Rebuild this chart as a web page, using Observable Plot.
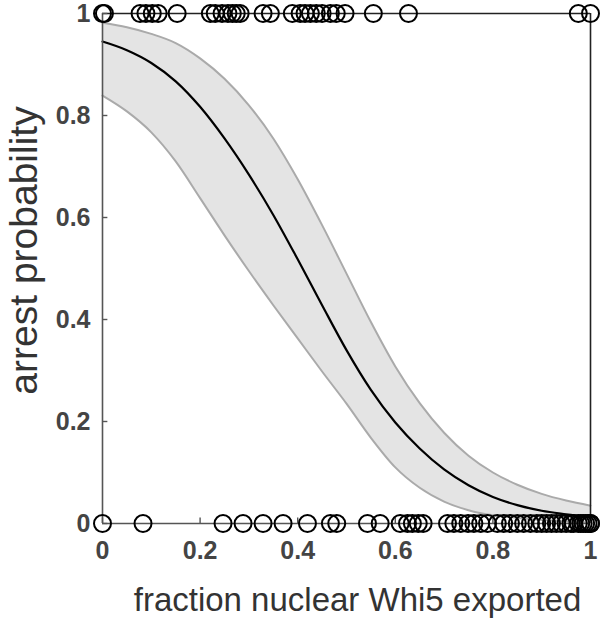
<!DOCTYPE html>
<html>
<head>
<meta charset="utf-8">
<script src="https://cdn.jsdelivr.net/npm/d3@7"></script>
<script src="https://cdn.jsdelivr.net/npm/@observablehq/plot@0.6"></script>
<style>
  html, body { margin: 0; padding: 0; background: white; }
  #chart svg { display: block; }
</style>
</head>
<body>
<div id="chart"></div>
<script>
// Fitted curve samples
const curveX  = [0, 0.05, 0.1, 0.15, 0.2, 0.25, 0.3, 0.35, 0.4, 0.45, 0.5, 0.55, 0.6, 0.65, 0.7, 0.75, 0.8, 0.85, 0.9, 0.95, 1.0];
const fitY    = [0.945, 0.928, 0.903, 0.867, 0.817, 0.755, 0.684, 0.605, 0.518, 0.428, 0.34, 0.262, 0.198, 0.147, 0.106, 0.075, 0.052, 0.036, 0.025, 0.018, 0.012];
const upperY  = [0.982, 0.973, 0.96, 0.942, 0.912, 0.872, 0.82, 0.755, 0.675, 0.585, 0.49, 0.395, 0.308, 0.236, 0.178, 0.133, 0.1, 0.076, 0.058, 0.045, 0.035];
const lowerY  = [0.839, 0.808, 0.767, 0.71, 0.638, 0.565, 0.495, 0.428, 0.363, 0.298, 0.235, 0.168, 0.11, 0.07, 0.043, 0.026, 0.016, 0.011, 0.007, 0.004, 0.002];

// Observations: arrested (y = 1) and not arrested (y = 0)
const arrestedX = [0, 0.004, 0.077, 0.089, 0.102, 0.114, 0.153, 0.221, 0.231, 0.245, 0.257, 0.266, 0.274, 0.282,
  0.329, 0.344, 0.389, 0.405, 0.415, 0.426, 0.438, 0.45, 0.467, 0.479, 0.497, 0.555, 0.627, 0.975, 1.0];
const notArrestedX = [0, 0.083, 0.247, 0.288, 0.329, 0.37, 0.42, 0.467, 0.48, 0.543, 0.569, 0.61, 0.625, 0.635,
  0.647, 0.657, 0.707, 0.72, 0.734, 0.749, 0.761, 0.775, 0.789, 0.809, 0.822, 0.836, 0.85, 0.863, 0.877, 0.89,
  0.9, 0.91, 0.92, 0.93, 0.94, 0.95, 0.96, 0.965, 0.975, 0.98, 0.985, 0.99, 0.995, 1.0, 1.0];

const xTicks = [0, 0.2, 0.4, 0.6, 0.8, 1];
const yTicks = [0, 0.2, 0.4, 0.6, 0.8, 1];
const xLabel = "fraction nuclear Whi5 exported";
const yLabel = "arrest probability";

const curve = curveX.map((x, i) => ({x, fit: fitY[i], hi: upperY[i], lo: lowerY[i]}));
const points = [
  ...arrestedX.map(x => ({x, y: 1})),
  ...notArrestedX.map(x => ({x, y: 0}))
];

const chart = Plot.plot({
  width: 602,
  height: 619,
  marginLeft: 102,
  marginRight: 12,
  marginTop: 13,
  marginBottom: 96,
  style: {fontFamily: "'Liberation Sans', Arial, sans-serif", background: "white", overflow: "visible"},
  x: {domain: [0, 1]},
  y: {domain: [0, 1]},
  marks: [
    Plot.areaY(curve, {x: "x", y1: "lo", y2: "hi", fill: "#e4e4e4", curve: "monotone-x"}),
    Plot.lineY(curve, {x: "x", y: "hi", stroke: "#aaaaaa", strokeWidth: 2, curve: "monotone-x"}),
    Plot.lineY(curve, {x: "x", y: "lo", stroke: "#aaaaaa", strokeWidth: 2, curve: "monotone-x"}),
    Plot.lineY(curve, {x: "x", y: "fit", stroke: "black", strokeWidth: 2.2, curve: "monotone-x"}),
    // box
    Plot.ruleX([0], {stroke: "#555", strokeWidth: 1.6}),
    Plot.ruleY([0], {stroke: "#555", strokeWidth: 1.6}),
    Plot.ruleX([1], {stroke: "#222", strokeWidth: 1.6}),
    Plot.ruleY([1], {stroke: "#222", strokeWidth: 1.6}),
    // inward ticks
    Plot.ruleX(xTicks, {x: d => d, y1: 0, y2: 0.011, stroke: "#555", strokeWidth: 1.4}),
    Plot.ruleY(yTicks, {y: d => d, x1: 0, x2: 0.011, stroke: "#555", strokeWidth: 1.4}),
    Plot.axisX({ticks: xTicks, tickSize: 0, tickPadding: 18, tickFormat: d => String(d), fontSize: 25, fontWeight: "bold", fill: "#444", label: null}),
    Plot.axisY({ticks: yTicks, tickSize: 0, tickPadding: 12, tickFormat: d => String(d), fontSize: 25, fontWeight: "bold", fill: "#444", label: null}),
    Plot.text([xLabel], {text: d => d, frameAnchor: "bottom", textAnchor: "middle", dx: 11, dy: 77, fontSize: 33, fill: "#333", lineAnchor: "middle"}),
    Plot.text([yLabel], {text: d => d, frameAnchor: "left", textAnchor: "middle", rotate: -90, dx: -78, dy: -18, fontSize: 39, fill: "#333", lineAnchor: "middle"}),
    Plot.dot(points, {x: "x", y: "y", r: 8.5, stroke: "black", strokeWidth: 2, fill: "none"})
  ]
});
document.getElementById("chart").appendChild(chart);
</script>
</body>
</html>
